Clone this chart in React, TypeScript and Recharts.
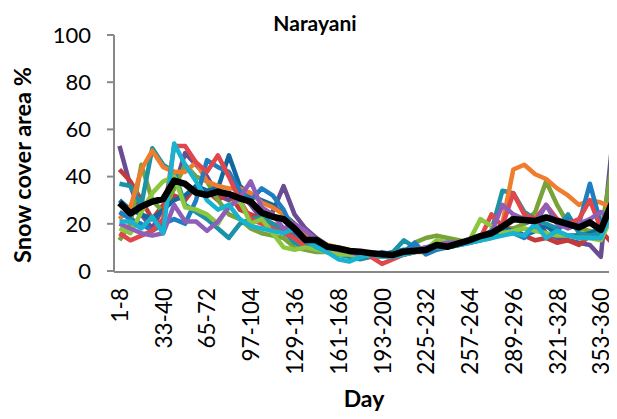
import React from "react";
import { LineChart, Line, XAxis, YAxis } from "recharts";

// 8-day composite periods
const DAYS = [
  "1-8", "9-16", "17-24", "25-32", "33-40", "41-48", "49-56", "57-64",
  "65-72", "73-80", "81-88", "89-96", "97-104", "105-112", "113-120", "121-128",
  "129-136", "137-144", "145-152", "153-160", "161-168", "169-176", "177-184", "185-192",
  "193-200", "201-208", "209-216", "217-224", "225-232", "233-240", "241-248", "249-256",
  "257-264", "265-272", "273-280", "281-288", "289-296", "297-304", "305-312", "313-320",
  "321-328", "329-336", "337-344", "345-352", "353-360", "361-365",
];

const darkPurple = [53, 36, 24, 18, 27, 35, 50, 45, 40, 32, 30, 33, 28, 22, 25, 36, 24, 18, 14, 11, 9, 8, 7, 7, 6, 6, 8, 9, 8, 10, 11, 12, 13, 14, 16, 18, 23, 20, 22, 16, 14, 13, 12, 11, 6, 52];
const orange = [22, 27, 43, 51, 44, 42, 42, 46, 38, 36, 35, 35, 33, 29, 27, 24, 19, 15, 13, 11, 10, 9, 8, 7, 6, 6, 7, 8, 8, 10, 11, 12, 13, 14, 15, 20, 43, 45, 41, 39, 35, 32, 28, 30, 29, 27];
const red = [16, 13, 15, 17, 22, 53, 53, 46, 42, 49, 40, 30, 22, 20, 18, 16, 14, 10, 9, 8, 8, 7, 7, 6, 3, 5, 7, 8, 9, 10, 10, 12, 13, 14, 24, 19, 33, 24, 22, 28, 22, 20, 22, 30, 18, 22];
const teal = [37, 36, 28, 52, 45, 42, 28, 25, 22, 18, 14, 20, 22, 23, 20, 17, 12, 10, 9, 8, 7, 6, 5, 6, 7, 8, 13, 10, 9, 11, 10, 11, 12, 14, 17, 34, 33, 25, 22, 20, 18, 24, 16, 15, 16, 23];
const yellowGreen = [18, 16, 25, 33, 38, 40, 27, 26, 24, 20, 28, 30, 20, 22, 16, 10, 9, 10, 9, 8, 7, 7, 6, 7, 7, 7, 8, 9, 9, 13, 12, 12, 13, 22, 19, 16, 17, 18, 17, 16, 15, 15, 14, 14, 13, 23];
const olive = [13, 20, 45, 30, 25, 35, 45, 40, 38, 30, 24, 22, 18, 16, 15, 14, 10, 9, 8, 8, 7, 7, 6, 6, 6, 7, 8, 12, 14, 15, 14, 13, 12, 13, 14, 16, 18, 20, 25, 38, 28, 20, 18, 17, 16, 44];
const blue = [25, 22, 20, 17, 20, 22, 20, 30, 47, 44, 42, 34, 30, 35, 32, 26, 16, 12, 10, 9, 8, 7, 6, 6, 8, 7, 8, 12, 7, 9, 10, 11, 12, 13, 15, 17, 16, 14, 19, 15, 17, 22, 20, 37, 20, 26];
const darkBlue = [30, 26, 24, 22, 26, 30, 32, 36, 34, 35, 49, 36, 32, 30, 28, 24, 20, 14, 11, 9, 8, 7, 7, 8, 7, 8, 9, 9, 10, 11, 12, 12, 13, 14, 15, 18, 17, 15, 17, 19, 16, 15, 15, 16, 18, 24];
const cyan = [21, 21, 18, 23, 16, 54, 45, 38, 30, 26, 28, 22, 19, 18, 17, 16, 18, 13, 10, 8, 5, 4, 6, 7, 6, 6, 7, 8, 9, 10, 10, 11, 12, 13, 14, 15, 16, 15, 20, 14, 17, 15, 14, 14, 14, 25];
const lightPurple = [20, 18, 16, 15, 16, 28, 21, 21, 17, 21, 27, 31, 38, 27, 24, 18, 20, 17, 13, 10, 9, 8, 7, 7, 7, 7, 8, 9, 10, 11, 12, 12, 13, 14, 16, 28, 24, 22, 20, 28, 20, 18, 20, 22, 25, 22];
const darkRed = [43, 38, 30, 22, 28, 32, 30, 36, 34, 30, 33, 26, 24, 22, 20, 18, 14, 11, 10, 9, 8, 7, 7, 6, 6, 6, 7, 8, 9, 10, 11, 12, 13, 14, 17, 18, 18, 15, 13, 14, 12, 13, 11, 15, 17, 12];
const mean = [28.9, 24.4, 27.3, 29.4, 30.5, 38.3, 36.9, 33.2, 32.2, 33.6, 32.6, 30.8, 29.4, 24.7, 23, 22, 18, 13.1, 13.1, 10.3, 9.6, 8.5, 8.2, 7.5, 7.1, 6.8, 8.2, 8.6, 8.9, 11, 10.3, 11.7, 13.1, 14.8, 16, 18.8, 21.9, 21.6, 21.2, 22.7, 21.2, 19.9, 18.5, 20.6, 17.4, 28.7];

const Y_TICKS = [0, 20, 40, 60, 80, 100];
// category boundaries, for Excel-style tick marks between categories
const BOUNDS = [0, 1, 2, 3, 4, 5, 6, 7, 8, 9, 10, 11, 12, 13, 14, 15, 16, 17, 18, 19, 20, 21, 22, 23, 24, 25, 26, 27, 28, 29, 30, 31, 32, 33, 34, 35, 36, 37, 38, 39, 40, 41, 42, 43, 44, 45, 46];

const SERIES = [
  { key: "darkPurple", values: darkPurple, color: "#6a4c93" },
  { key: "darkRed", values: darkRed, color: "#c23b3a" },
  { key: "olive", values: olive, color: "#77a33a" },
  { key: "darkBlue", values: darkBlue, color: "#11689f" },
  { key: "teal", values: teal, color: "#1b93a6" },
  { key: "orange", values: orange, color: "#ee7d2d" },
  { key: "blue", values: blue, color: "#1f7ec1" },
  { key: "red", values: red, color: "#e0474c" },
  { key: "yellowGreen", values: yellowGreen, color: "#8dc63f" },
  { key: "lightPurple", values: lightPurple, color: "#8e5eb8" },
  { key: "cyan", values: cyan, color: "#17b3cf" },
];

const data = DAYS.map((day, i) => {
  const row: Record<string, any> = { day, mean: mean[i] };
  SERIES.forEach((s) => { row[s.key] = s.values[i]; });
  return row;
});

const FONT = "Lato, 'Open Sans', sans-serif";
const AXIS = "#888888";
const CHART_W = 640;
const CHART_H = 419;
const PLOT_LEFT = 114;
const PLOT_TOP = 35;
const PLOT_BOTTOM = 271;
const CAT_W = 10.94;
const PLOT_W = CAT_W * DAYS.length;
const Y_AXIS_W = 60;

const DayTick = ({ x, y, payload }: any) => (
  <text
    x={x}
    y={y}
    transform={`rotate(-90 ${x} ${y})`}
    textAnchor="end"
    dominantBaseline="central"
    fontFamily={FONT}
    fontSize={22.5}
    fill="#000"
  >
    {payload.value}
  </text>
);

export default function App() {
  return (
    <div style={{ position: "relative", margin: -8, width: 617, height: 419, overflow: "hidden", background: "#fff" }}>
      <LineChart
        width={CHART_W}
        height={CHART_H}
        data={data}
        margin={{
          top: PLOT_TOP,
          left: PLOT_LEFT - Y_AXIS_W,
          right: CHART_W - PLOT_LEFT - PLOT_W,
          bottom: CHART_H - PLOT_BOTTOM - 2,
        }}
      >
        <XAxis
          xAxisId="grid"
          type="number"
          domain={[0, DAYS.length]}
          ticks={BOUNDS}
          allowDataOverflow
          height={1}
          tick={false}
          tickSize={6}
          tickLine={{ stroke: AXIS, strokeWidth: 2 }}
          axisLine={{ stroke: AXIS, strokeWidth: 2 }}
        />
        <XAxis
          xAxisId="cat"
          dataKey="day"
          interval={3}
          height={1}
          padding={{ left: CAT_W / 2, right: CAT_W / 2 }}
          axisLine={false}
          tickLine={false}
          tickSize={6}
          tickMargin={11}
          tick={<DayTick />}
        />
        <YAxis
          domain={[0, 100]}
          ticks={Y_TICKS}
          width={Y_AXIS_W}
          tickSize={7}
          tickMargin={16}
          tickLine={{ stroke: AXIS, strokeWidth: 2 }}
          axisLine={{ stroke: AXIS, strokeWidth: 2 }}
          tick={{ fontFamily: FONT, fontSize: 22, fill: "#000" }}
        />
        {SERIES.map((s) => (
          <Line
            key={s.key}
            xAxisId="cat"
            dataKey={s.key}
            stroke={s.color}
            strokeWidth={4.5}
            strokeLinejoin="round"
            dot={false}
            isAnimationActive={false}
          />
        ))}
        <Line
          xAxisId="cat"
          dataKey="mean"
          stroke="#000"
          strokeWidth={6.5}
          strokeLinejoin="round"
          dot={false}
          isAnimationActive={false}
        />
      </LineChart>

      <div style={{ position: "absolute", left: 215, width: 200, top: 10, textAlign: "center", fontFamily: FONT, fontWeight: 700, fontSize: 21, lineHeight: "26px" }}>
        Narayani
      </div>
      <div
        style={{
          position: "absolute", left: 22, top: 165, width: 260, marginLeft: -130, marginTop: -14,
          textAlign: "center", fontFamily: FONT, fontWeight: 700, fontSize: 23.5, lineHeight: "28px",
          transform: "rotate(-90deg)",
        }}
      >
        Snow cover area %
      </div>
      <div style={{ position: "absolute", left: 314, width: 100, top: 384, textAlign: "center", fontFamily: FONT, fontWeight: 700, fontSize: 23, lineHeight: "28px" }}>
        Day
      </div>
    </div>
  );
}
